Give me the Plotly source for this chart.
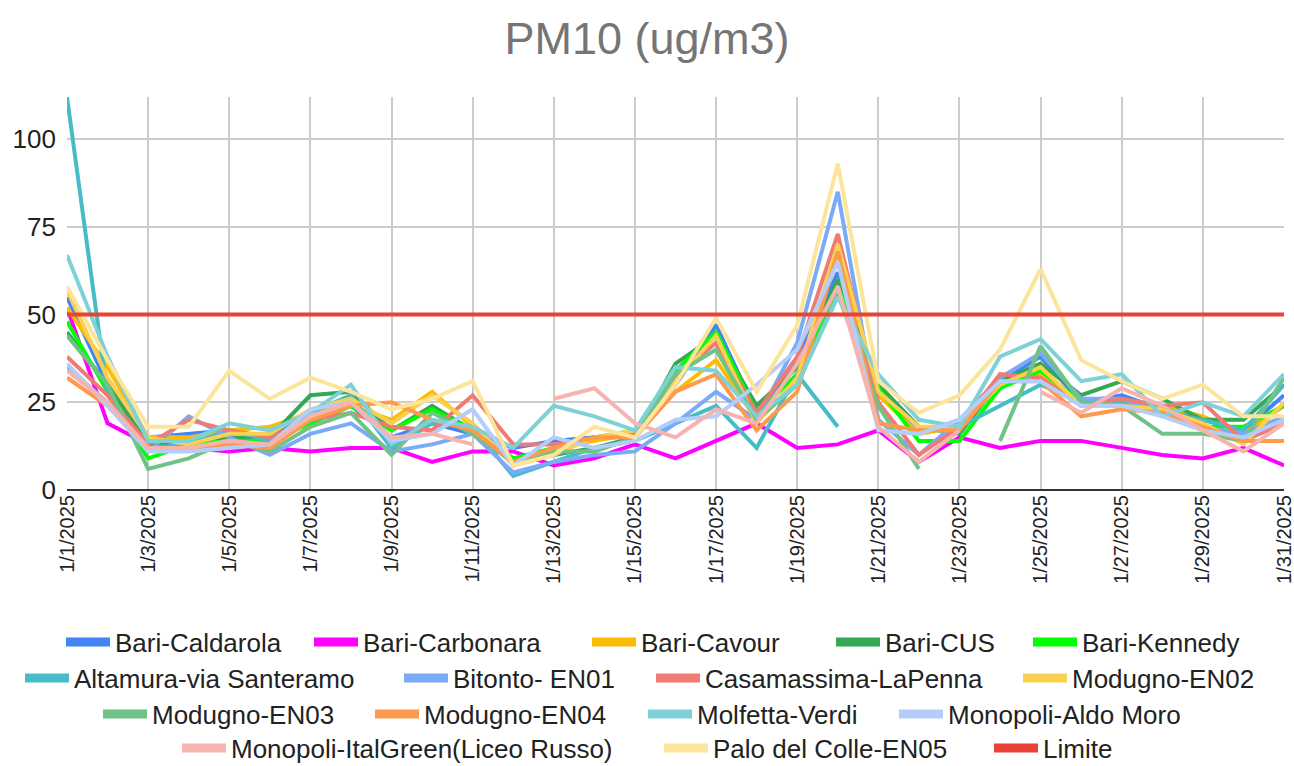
import plotly.graph_objects as go

dates = [f"1/{d}/2025" for d in range(1, 32)]
tick_labels = dates[::2]

N = None
bari_caldarola = [55, 30, 15, 16, 17, 15, 22, 24, 15, 19, 16, 12, 14, 15, 15, 30, 47, 22, 37, 62, 28, 16, 20, 31, 38, 25, 27, 23, 20, 17, 27]
bari_carbonara = [52, 19, 13, 12, 11, 12, 11, 12, 12, 8, 11, 11, 7, 9, 13, 9, 14, 19, 12, 13, 17, 8, 15, 12, 14, 14, 12, 10, 9, 12, 7]
bari_cavour = [52, 35, 15, 15, 17, 18, 22, 24, 20, 28, 18, 8, 12, 14, 16, 28, 37, 20, 30, 68, 27, 16, 18, 30, 33, 24, 25, 24, 21, 16, 24]
bari_cus = [45, 30, 13, 14, 15, 15, 27, 28, 17, 24, 17, 9, 10, 12, 15, 36, 44, 24, 35, 60, 30, 18, 16, 31, 36, 27, 31, 26, 20, 20, 30]
bari_kennedy = [48, 28, 9, 13, 14, 14, 19, 24, 17, 23, 17, 9, 12, 15, 17, 34, 45, 22, 33, 58, 29, 14, 14, 29, 34, 25, 25, 24, 18, 18, 24]
altamura = [112, 27, 12, 13, 17, 14, 22, 27, 12, 19, 18, 4, 8, 12, 14, 19, 24, 12, 33, 18, N, N, 18, 24, 30, 25, 25, 22, 20, 17, 30]
bitonto = [35, 25, 11, 21, 15, 10, 16, 19, 11, 13, 16, 5, 8, 10, 11, 19, 28, 20, 42, 85, 20, 10, 20, 32, 39, 26, 26, 22, 18, 16, 21]
casamassima = [38, 27, 13, 20, 17, 15, 20, 22, 18, 17, 27, 13, 13, 15, 16, 32, 42, 22, 38, 73, 25, 10, 18, 33, 32, 24, 26, 24, 25, 14, 19]
modugno_en02 = [57, 32, 15, 13, 16, 16, 23, 26, 19, 27, 19, 7, 10, 15, 17, 31, 44, 19, 32, 70, 28, 18, 18, 30, 35, 24, 24, 23, 19, 13, 25]
modugno_en03 = [44, 30, 6, 9, 14, 11, 18, 22, 10, 22, 16, 8, 11, 11, 15, 33, 40, 20, 30, 56, 24, 6, N, 14, 41, 25, 24, 16, 16, 14, 32]
modugno_en04 = [32, 24, 12, 12, 13, 12, 20, 24, 25, 20, 17, 8, 12, 15, 15, 28, 33, 17, 28, 68, 19, 17, 17, 31, 31, 21, 23, 22, 18, 14, 14]
molfetta = [67, 38, 14, 14, 19, 17, 22, 30, 13, 20, 18, 12, 24, 21, 17, 35, 34, 21, 30, 55, 33, 20, 18, 38, 43, 31, 33, 21, 25, 21, 33]
monopoli_am = [36, 24, 11, 11, 12, 13, 23, 25, 14, 16, 23, 7, 15, 12, 14, 20, 21, 30, 40, 65, 17, 16, 20, 31, 31, 24, 24, 21, 17, 15, 20]
monopoli_ig = [34, 25, 12, 12, 14, 13, 21, 25, 15, 16, 13, N, 26, 29, 19, 15, 23, 19, 36, 58, 18, 8, 17, N, 28, 22, 29, 24, 17, 11, 19]
palo = [58, 37, 18, 18, 34, 26, 32, 28, 23, 26, 31, 7, 10, 18, 15, 30, 49, 28, 47, 93, 31, 22, 27, 40, 63, 37, 31, 26, 30, 21, 21]
limite = [50] * 31

series_names = [
    "Bari-Caldarola", "Bari-Carbonara", "Bari-Cavour", "Bari-CUS", "Bari-Kennedy",
    "Altamura-via Santeramo", "Bitonto- EN01", "Casamassima-LaPenna", "Modugno-EN02",
    "Modugno-EN03", "Modugno-EN04", "Molfetta-Verdi", "Monopoli-Aldo Moro",
    "Monopoli-ItalGreen(Liceo Russo)", "Palo del Colle-EN05", "Limite",
]
series_values = [
    bari_caldarola, bari_carbonara, bari_cavour, bari_cus, bari_kennedy,
    altamura, bitonto, casamassima, modugno_en02,
    modugno_en03, modugno_en04, molfetta, monopoli_am,
    monopoli_ig, palo, limite,
]
series_colors = [
    "#4285f4", "#ff00ff", "#fbbc04", "#34a853", "#00ff00",
    "#46bdc6", "#7baaf7", "#f07b72", "#fcd04f",
    "#71c287", "#ff994d", "#7ed1d7", "#b3cefb",
    "#f7b4ae", "#fde49b", "#ea4335",
]

# legend entry layout: (swatch left pixel, row centre pixel)
legend_pos = [
    (66, 642), (314, 642), (592, 642), (836, 642), (1033, 642),
    (25, 678), (404, 678), (656, 678), (1023, 678),
    (103, 714), (375, 714), (648, 714), (899, 714),
    (182, 748), (664, 748), (994, 748),
]

FONT = "Liberation Sans, Arial, sans-serif"
W, H = 1294, 766

fig = go.Figure()
for name, vals, color in zip(series_names, series_values, series_colors):
    fig.add_trace(go.Scatter(
        x=dates, y=vals, name=name, mode="lines",
        line=dict(color=color, width=4),
        connectgaps=False, legendgroup=name, showlegend=False,
    ))

legends = {}
for i, (name, color) in enumerate(zip(series_names, series_colors)):
    key = "legend" if i == 0 else f"legend{i + 1}"
    fig.add_trace(go.Scatter(
        x=[None], y=[None], name=name, mode="lines",
        line=dict(color=color, width=9),
        legendgroup=name, showlegend=True, legend=key,
    ))
    px, py = legend_pos[i]
    legends[key] = dict(
        orientation="h", xref="container", yref="container",
        x=(px - 5) / W, xanchor="left", y=1 - py / H, yanchor="middle",
        font=dict(family=FONT, size=26, color="#222222"),
        itemwidth=44, bgcolor="rgba(0,0,0,0)", borderwidth=0,
    )

fig.update_layout(
    width=W, height=H,
    paper_bgcolor="white", plot_bgcolor="white",
    font=dict(family=FONT, color="#222222", size=24),
    title=dict(text="PM10 (ug/m3)", x=0.5, xanchor="center", y=0.95, yanchor="middle",
               yref="container",
               font=dict(family=FONT, size=45, color="#757575")),
    margin=dict(l=67, r=10, t=97, b=276),
    showlegend=True,
    xaxis=dict(
        type="category", range=[0, 30], automargin=False,
        tickmode="array", tickvals=tick_labels, ticktext=tick_labels,
        tickangle=-90, tickfont=dict(family=FONT, size=20, color="#222222"),
        showgrid=True, gridcolor="#cccccc", gridwidth=1.5,
        showline=False, zeroline=False, ticks="",
    ),
    yaxis=dict(
        range=[0, 112], tickvals=[0, 25, 50, 75, 100], automargin=False,
        tickfont=dict(family=FONT, size=26, color="#222222"),
        showgrid=True, gridcolor="#cccccc", gridwidth=1.5,
        zeroline=True, zerolinecolor="#333333", zerolinewidth=2,
        showline=False, ticks="", ticklabelstandoff=10,
    ),
    **legends,
)

fig.write_html("out.html", config={"displayModeBar": False},
               post_script="document.body.style.margin='0px';")
